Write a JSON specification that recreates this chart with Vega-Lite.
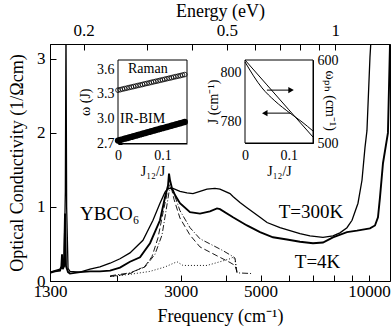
{
 "$schema": "https://vega.github.io/schema/vega-lite/v6.json",
 "width": 340, "height": 237,
 "autosize": {"type": "none"},
 "padding": {"left": 50, "top": 44, "right": 2, "bottom": 48},
 "background": "white",
 "config": {
  "view": {"stroke": "black", "strokeWidth": 1},
  "axis": {"grid": false, "labelFont": "Liberation Serif", "titleFont": "Liberation Serif", "labelFontSize": 17, "titleFontSize": 18, "titleFontWeight": "normal", "labelColor": "black", "titleColor": "black", "domainColor": "black", "tickColor": "black", "labelOverlap": false, "labelFlush": false},
  "text": {"font": "Liberation Serif", "color": "black"}
 },
 "datasets": {
  "spectra": [
   {"s":"U","f":1300,"v":0.12},{"s":"U","f":1342,"v":0.14},{"s":"U","f":1386,"v":0.16},{"s":"U","f":1422,"v":0.2},{"s":"U","f":1434,"v":1.2},{"s":"U","f":1440,"v":3.4},{"s":"U","f":1446,"v":1.0},{"s":"U","f":1459,"v":0.17},{"s":"U","f":1477,"v":0.13},{"s":"U","f":1575,"v":0.12},{"s":"U","f":1679,"v":0.16},{"s":"U","f":1789,"v":0.19},{"s":"U","f":1909,"v":0.24},{"s":"U","f":2034,"v":0.3},{"s":"U","f":2168,"v":0.38},{"s":"U","f":2356,"v":0.55},{"s":"U","f":2512,"v":0.82},{"s":"U","f":2627,"v":1.05},{"s":"U","f":2713,"v":1.2},{"s":"U","f":2766,"v":1.25},{"s":"U","f":2855,"v":1.25},{"s":"U","f":2985,"v":1.21},{"s":"U","f":3122,"v":1.19},{"s":"U","f":3244,"v":1.18},{"s":"U","f":3393,"v":1.21},{"s":"U","f":3548,"v":1.24},{"s":"U","f":3734,"v":1.25},{"s":"U","f":3856,"v":1.24},{"s":"U","f":4111,"v":1.18},{"s":"U","f":4190,"v":1.14},{"s":"U","f":4382,"v":1.06},{"s":"U","f":4582,"v":0.99},{"s":"U","f":4981,"v":0.86},{"s":"U","f":5210,"v":0.79},{"s":"U","f":5660,"v":0.72},{"s":"U","f":6432,"v":0.64},{"s":"U","f":6857,"v":0.61},{"s":"U","f":7451,"v":0.59},{"s":"U","f":7943,"v":0.61},{"s":"U","f":8306,"v":0.65},{"s":"U","f":8687,"v":0.72},{"s":"U","f":8973,"v":0.82},{"s":"U","f":9322,"v":1.05},{"s":"U","f":9563,"v":1.36},{"s":"U","f":9748,"v":1.8},{"s":"U","f":9872,"v":2.03},{"s":"U","f":10064,"v":3.02},{"s":"U","f":10200,"v":3.5},
   {"s":"L","f":1300,"v":0.11},{"s":"L","f":1342,"v":0.13},{"s":"L","f":1386,"v":0.14},{"s":"L","f":1398,"v":0.2},{"s":"L","f":1404,"v":0.36},{"s":"L","f":1410,"v":0.16},{"s":"L","f":1422,"v":0.2},{"s":"L","f":1431,"v":0.91},{"s":"L","f":1440,"v":0.2},{"s":"L","f":1459,"v":0.12},{"s":"L","f":1477,"v":0.1},{"s":"L","f":1575,"v":0.12},{"s":"L","f":1679,"v":0.13},{"s":"L","f":1789,"v":0.13},{"s":"L","f":1909,"v":0.14},{"s":"L","f":2034,"v":0.18},{"s":"L","f":2168,"v":0.26},{"s":"L","f":2312,"v":0.32},{"s":"L","f":2465,"v":0.51},{"s":"L","f":2627,"v":0.82},{"s":"L","f":2713,"v":1.13},{"s":"L","f":2766,"v":1.29},{"s":"L","f":2783,"v":1.45},{"s":"L","f":2801,"v":1.36},{"s":"L","f":2837,"v":1.25},{"s":"L","f":2892,"v":1.16},{"s":"L","f":2985,"v":1.05},{"s":"L","f":3183,"v":0.93},{"s":"L","f":3393,"v":0.91},{"s":"L","f":3617,"v":0.94},{"s":"L","f":3783,"v":0.98},{"s":"L","f":3856,"v":0.97},{"s":"L","f":4190,"v":0.86},{"s":"L","f":4582,"v":0.75},{"s":"L","f":4981,"v":0.66},{"s":"L","f":5412,"v":0.59},{"s":"L","f":5918,"v":0.56},{"s":"L","f":6432,"v":0.53},{"s":"L","f":6990,"v":0.51},{"s":"L","f":7451,"v":0.52},{"s":"L","f":7943,"v":0.59},{"s":"L","f":8687,"v":0.66},{"s":"L","f":9262,"v":0.68},{"s":"L","f":10064,"v":0.71},{"s":"L","f":10392,"v":0.75},{"s":"L","f":10593,"v":0.86},{"s":"L","f":10730,"v":1.13},{"s":"L","f":10938,"v":1.59},{"s":"L","f":11290,"v":2.0},{"s":"L","f":11440,"v":3.2},
   {"s":"LD","f":1909,"v":0.06},{"s":"LD","f":2168,"v":0.1},{"s":"LD","f":2387,"v":0.2},{"s":"LD","f":2496,"v":0.33},{"s":"LD","f":2593,"v":0.58},{"s":"LD","f":2678,"v":0.92},{"s":"LD","f":2748,"v":1.18},{"s":"LD","f":2792,"v":1.3},{"s":"LD","f":2837,"v":1.22},{"s":"LD","f":2875,"v":1.1},{"s":"LD","f":2985,"v":0.85},{"s":"LD","f":3183,"v":0.62},{"s":"LD","f":3393,"v":0.46},{"s":"LD","f":3783,"v":0.34},{"s":"LD","f":4111,"v":0.25},{"s":"LD","f":4244,"v":0.21},{"s":"LD","f":4299,"v":0.12},
   {"s":"DD","f":1909,"v":0.07},{"s":"DD","f":2168,"v":0.11},{"s":"DD","f":2387,"v":0.19},{"s":"DD","f":2544,"v":0.36},{"s":"DD","f":2661,"v":0.62},{"s":"DD","f":2731,"v":0.95},{"s":"DD","f":2783,"v":1.2},{"s":"DD","f":2819,"v":1.27},{"s":"DD","f":2855,"v":1.22},{"s":"DD","f":2985,"v":0.95},{"s":"DD","f":3183,"v":0.72},{"s":"DD","f":3393,"v":0.57},{"s":"DD","f":3687,"v":0.48},{"s":"DD","f":3930,"v":0.41},{"s":"DD","f":4190,"v":0.33},{"s":"DD","f":4244,"v":0.31},{"s":"DD","f":4299,"v":0.11},{"s":"DD","f":4762,"v":0.1},
   {"s":"DT","f":1909,"v":0.06},{"s":"DT","f":2168,"v":0.09},{"s":"DT","f":2465,"v":0.13},{"s":"DT","f":2713,"v":0.19},{"s":"DT","f":2929,"v":0.26},{"s":"DT","f":3043,"v":0.21},{"s":"DT","f":3286,"v":0.21},{"s":"DT","f":3548,"v":0.21},{"s":"DT","f":3856,"v":0.26},{"s":"DT","f":4111,"v":0.3},{"s":"DT","f":4190,"v":0.32},{"s":"DT","f":4244,"v":0.29},{"s":"DT","f":4299,"v":0.11}
  ],
  "raman": [
   {"j":0,"w":3.345},{"j":0.005,"w":3.351},{"j":0.01,"w":3.358},{"j":0.015,"w":3.364},{"j":0.02,"w":3.37},{"j":0.025,"w":3.377},{"j":0.03,"w":3.383},{"j":0.035,"w":3.389},{"j":0.04,"w":3.395},{"j":0.045,"w":3.402},{"j":0.05,"w":3.408},{"j":0.055,"w":3.414},{"j":0.06,"w":3.421},{"j":0.065,"w":3.427},{"j":0.07,"w":3.433},{"j":0.075,"w":3.44},{"j":0.08,"w":3.446},{"j":0.085,"w":3.452},{"j":0.09,"w":3.458},{"j":0.095,"w":3.465},{"j":0.1,"w":3.471},{"j":0.105,"w":3.477},{"j":0.11,"w":3.484},{"j":0.115,"w":3.49},{"j":0.12,"w":3.496},{"j":0.125,"w":3.503},{"j":0.13,"w":3.509},{"j":0.135,"w":3.515},{"j":0.14,"w":3.521},{"j":0.145,"w":3.528},{"j":0.15,"w":3.534}
  ],
  "irbim": [
   {"j":0,"w":2.735},{"j":0.005,"w":2.743},{"j":0.01,"w":2.75},{"j":0.015,"w":2.758},{"j":0.02,"w":2.765},{"j":0.025,"w":2.773},{"j":0.03,"w":2.78},{"j":0.035,"w":2.788},{"j":0.04,"w":2.795},{"j":0.045,"w":2.803},{"j":0.05,"w":2.81},{"j":0.055,"w":2.818},{"j":0.06,"w":2.825},{"j":0.065,"w":2.833},{"j":0.07,"w":2.84},{"j":0.075,"w":2.848},{"j":0.08,"w":2.855},{"j":0.085,"w":2.863},{"j":0.09,"w":2.87},{"j":0.095,"w":2.878},{"j":0.1,"w":2.885},{"j":0.105,"w":2.893},{"j":0.11,"w":2.9},{"j":0.115,"w":2.908},{"j":0.12,"w":2.915},{"j":0.125,"w":2.923},{"j":0.13,"w":2.93},{"j":0.135,"w":2.938},{"j":0.14,"w":2.945},{"j":0.145,"w":2.953},{"j":0.15,"w":2.96}
  ],
  "jline": [
   {"j":0,"J":804.5},{"j":0.0388,"J":793.9},{"j":0.068,"J":788.6},{"j":0.1026,"J":783.6},{"j":0.13,"J":780.0},{"j":0.155,"J":776.3}
  ],
  "wline": [
   {"j":0,"w":600},{"j":0.05,"w":570},{"j":0.1,"w":540},{"j":0.155,"w":507.2}
  ]
 },
 "resolve": {"scale": {"x": "independent", "y": "independent"}, "axis": {"x": "independent", "y": "independent"}},
 "layer": [
  {
   "layer": [
    {"data": {"name": "spectra"}, "transform": [{"filter": "datum.s == 'U'"}],
     "mark": {"type": "line", "clip": true, "color": "black", "strokeWidth": 1.3},
     "encoding": {
      "x": {"field": "f", "type": "quantitative", "scale": {"type": "log", "domain": [1300, 11440], "nice": false},
            "axis": {"orient": "bottom", "title": "Frequency (cm⁻¹)", "values": [1300,2000,3000,4000,5000,6000,7000,8000,9000,10000], "format": "d", "labelExpr": "indexof([1300,3000,5000,10000], datum.value) >= 0 ? datum.label : ''", "tickSize": -6, "labelPadding": 8, "titlePadding": 8}},
      "y": {"field": "v", "type": "quantitative", "scale": {"domain": [0, 3.2], "nice": false, "zero": false},
            "axis": {"orient": "left", "title": "Optical Conductivity (1/Ωcm)", "values": [0,0.5,1,1.5,2,2.5,3], "labelExpr": "datum.value % 1 == 0 ? format(datum.value, 'd') : ''", "tickSize": -6, "labelPadding": 11, "titlePadding": 10}}
     }},
    {"data": {"name": "spectra"}, "transform": [{"filter": "datum.s == 'L'"}],
     "mark": {"type": "line", "clip": true, "color": "black", "strokeWidth": 1.9},
     "encoding": {"x": {"field": "f", "type": "quantitative"}, "y": {"field": "v", "type": "quantitative"}}},
    {"data": {"name": "spectra"}, "transform": [{"filter": "datum.s == 'LD'"}],
     "mark": {"type": "line", "clip": true, "color": "black", "strokeWidth": 0.9, "strokeDash": [6, 3]},
     "encoding": {"x": {"field": "f", "type": "quantitative"}, "y": {"field": "v", "type": "quantitative"}}},
    {"data": {"name": "spectra"}, "transform": [{"filter": "datum.s == 'DD'"}],
     "mark": {"type": "line", "clip": true, "color": "black", "strokeWidth": 0.9, "strokeDash": [6, 2, 1, 2]},
     "encoding": {"x": {"field": "f", "type": "quantitative"}, "y": {"field": "v", "type": "quantitative"}}},
    {"data": {"name": "spectra"}, "transform": [{"filter": "datum.s == 'DT'"}],
     "mark": {"type": "line", "clip": true, "color": "black", "strokeWidth": 0.9, "strokeDash": [1, 2]},
     "encoding": {"x": {"field": "f", "type": "quantitative"}, "y": {"field": "v", "type": "quantitative"}}},
    {"data": {"values": [{"f": 1575, "v": 0.91, "t": "YBCO₆"}, {"f": 5615, "v": 0.93, "t": "T=300K"}, {"f": 6222, "v": 0.25, "t": "T=4K"}]},
     "mark": {"type": "text", "align": "left", "baseline": "middle", "fontSize": 19, "font": "Liberation Serif"},
     "encoding": {"x": {"field": "f", "type": "quantitative"}, "y": {"field": "v", "type": "quantitative"}, "text": {"field": "t"}}}
   ]
  },
  {
   "data": {"values": [{"e": 0.2}, {"e": 0.5}, {"e": 1}]},
   "mark": {"type": "rule", "opacity": 0},
   "encoding": {"x": {"field": "e", "type": "quantitative", "scale": {"type": "log", "domain": [0.16118, 1.41838], "nice": false},
     "axis": {"orient": "top", "title": "Energy (eV)", "values": [0.2,0.3,0.4,0.5,0.6,0.7,0.8,0.9,1], "labelExpr": "datum.value == 0.2 ? '0.2' : datum.value == 0.5 ? '0.5' : datum.value == 1 ? '1' : ''", "tickSize": -6, "labelPadding": 11, "titlePadding": 1}}}
  },
  {
   "layer": [
    {"data": {"values": [{"x0": 0, "x1": 0.155, "y0": 2.7, "y1": 3.71}]},
     "mark": {"type": "rect", "fill": "white", "stroke": "black", "strokeWidth": 1},
     "encoding": {
      "x": {"field": "x0", "type": "quantitative", "scale": {"domain": [0, 0.155], "range": [68, 137], "nice": false, "zero": false},
            "axis": {"orient": "bottom", "offset": -137.5, "title": "J₁₂/J", "values": [0,0.025,0.05,0.075,0.1,0.125,0.15], "labelExpr": "datum.value == 0 ? '0' : datum.value == 0.1 ? '0.1' : ''", "tickSize": -4, "labelPadding": 9, "labelFontSize": 14, "titleFontSize": 14, "titlePadding": 2}},
      "x2": {"field": "x1"},
      "y": {"field": "y0", "type": "quantitative", "scale": {"domain": [2.7, 3.71], "range": [99.5, 16], "nice": false, "zero": false},
            "axis": {"orient": "left", "offset": -68, "title": "ω (J)", "values": [2.7, 3.0, 3.3, 3.6], "format": ".1f", "tickSize": -4, "labelPadding": 8, "labelFontSize": 14, "titleFontSize": 14, "titlePadding": 4}},
      "y2": {"field": "y1"}
     }},
    {"data": {"name": "raman"}, "mark": {"type": "point", "shape": "circle", "filled": false, "stroke": "black", "strokeWidth": 0.8, "size": 22, "opacity": 1},
     "encoding": {"x": {"field": "j", "type": "quantitative"}, "y": {"field": "w", "type": "quantitative"}}},
    {"data": {"name": "irbim"}, "mark": {"type": "point", "shape": "circle", "filled": true, "color": "black", "size": 40, "opacity": 1},
     "encoding": {"x": {"field": "j", "type": "quantitative"}, "y": {"field": "w", "type": "quantitative"}}},
    {"data": {"values": [{"j": 0.0225, "w": 3.6, "t": "Raman"}, {"j": 0.0045, "w": 2.995, "t": "IR-BIM"}]},
     "mark": {"type": "text", "align": "left", "baseline": "middle", "fontSize": 14, "font": "Liberation Serif"},
     "encoding": {"x": {"field": "j", "type": "quantitative"}, "y": {"field": "w", "type": "quantitative"}, "text": {"field": "t"}}}
   ]
  },
  {
   "resolve": {"scale": {"y": "independent"}, "axis": {"y": "independent"}},
   "layer": [
    {
     "layer": [
      {"data": {"values": [{"x0": 0, "x1": 0.155, "y0": 771.4, "y1": 805.3}]},
       "mark": {"type": "rect", "fill": "white", "stroke": "black", "strokeWidth": 1},
       "encoding": {
        "x": {"field": "x0", "type": "quantitative", "scale": {"domain": [0, 0.155], "range": [195, 263], "nice": false, "zero": false},
              "axis": {"orient": "bottom", "offset": -138, "title": "J₁₂/J", "values": [0,0.025,0.05,0.075,0.1,0.125,0.15], "labelExpr": "datum.value == 0 ? '0' : datum.value == 0.1 ? '0.1' : ''", "tickSize": -4, "labelPadding": 9, "labelFontSize": 14, "titleFontSize": 14, "titlePadding": 2}},
        "x2": {"field": "x1"},
        "y": {"field": "y0", "type": "quantitative", "scale": {"domain": [771.4, 805.3], "range": [99, 16], "nice": false, "zero": false},
              "axis": {"orient": "left", "offset": -195, "title": "J (cm⁻¹)", "values": [780, 790, 800], "labelExpr": "datum.value == 790 ? '' : datum.label", "tickSize": -4, "labelPadding": 8, "labelFontSize": 14, "titleFontSize": 14, "titlePadding": 0}},
        "y2": {"field": "y1"}
       }},
      {"data": {"name": "jline"}, "mark": {"type": "line", "color": "black", "strokeWidth": 1, "interpolate": "monotone"},
       "encoding": {"x": {"field": "j", "type": "quantitative"}, "y": {"field": "J", "type": "quantitative"}}},
      {"data": {"values": [{"a": 0.05, "b": 0.105, "J": 793.0}, {"a": 0.045, "b": 0.1026, "J": 783.6}]},
       "mark": {"type": "rule", "color": "black", "strokeWidth": 1},
       "encoding": {"x": {"field": "a", "type": "quantitative"}, "x2": {"field": "b"}, "y": {"field": "J", "type": "quantitative"}}},
      {"data": {"values": [{"j": 0.105, "J": 793.0, "d": "r"}, {"j": 0.045, "J": 783.6, "d": "l"}]},
       "mark": {"type": "point", "filled": true, "color": "black", "size": 40, "opacity": 1},
       "encoding": {"x": {"field": "j", "type": "quantitative"}, "y": {"field": "J", "type": "quantitative"},
        "shape": {"field": "d", "type": "nominal", "scale": {"domain": ["r", "l"], "range": ["triangle-right", "triangle-left"]}, "legend": null}}}
     ]
    },
    {
     "layer": [
      {"data": {"name": "wline"}, "mark": {"type": "line", "color": "black", "strokeWidth": 1, "interpolate": "monotone"},
       "encoding": {"x": {"field": "j", "type": "quantitative"},
        "y": {"field": "w", "type": "quantitative", "scale": {"domain": [500, 600], "range": [99, 16], "nice": false, "zero": false},
              "axis": {"orient": "right", "offset": -77, "title": null, "values": [500,520,540,560,580,600], "labelExpr": "datum.value == 500 || datum.value == 600 ? datum.label : ''", "tickSize": -4, "labelPadding": 8, "labelFontSize": 14}}}},
      {"data": {"values": [{"j": 0.194, "w": 551, "t": "ωₚₕ (cm⁻¹)"}]},
       "mark": {"type": "text", "angle": 90, "align": "center", "baseline": "middle", "fontSize": 14, "font": "Liberation Serif"},
       "encoding": {"x": {"field": "j", "type": "quantitative"}, "y": {"field": "w", "type": "quantitative"}, "text": {"field": "t"}}}
     ]
    }
   ]
  }
 ]
}
